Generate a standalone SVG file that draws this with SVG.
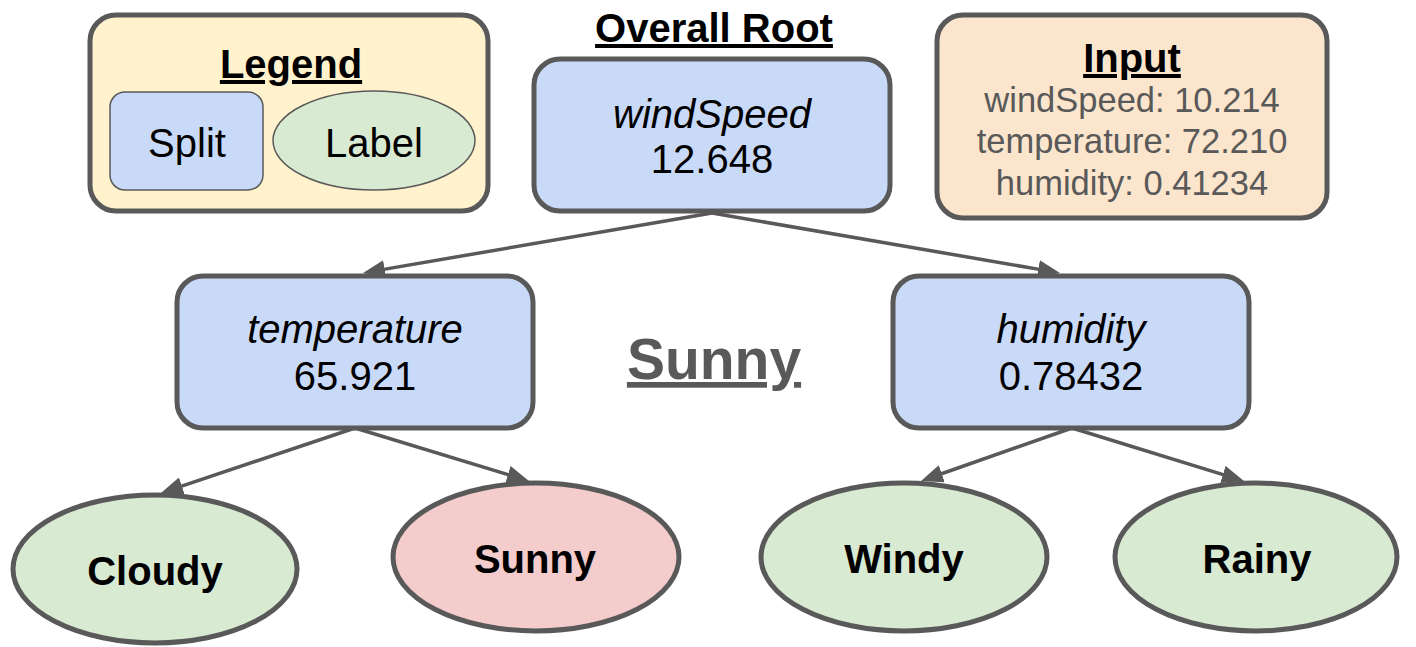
<svg xmlns="http://www.w3.org/2000/svg" width="1416" height="647" viewBox="0 0 1416 647">
  <style>
    text { font-family: "Liberation Sans", Arial, sans-serif; text-anchor: middle; fill: #000; }
    .title { font-size: 40px; font-weight: bold; text-decoration: underline; }
    .node { font-size: 40px; }
    .it { font-style: italic; }
    .leaf { font-size: 40px; font-weight: bold; }
    .input { font-size: 34.5px; fill: #595959; }
    .big { font-size: 57px; font-weight: bold; fill: #595959; text-decoration: underline; }
    .split { fill: #c9daf8; stroke: #595959; stroke-width: 5; }
    .label { fill: #d9ead3; stroke: #595959; stroke-width: 5; }
    .chosen { fill: #f4cccc; stroke: #595959; stroke-width: 5; }
    .edge { stroke: #595959; stroke-width: 3.5; fill: none; marker-end: url(#arrow); }
  </style>
  <defs>
    <marker id="arrow" markerUnits="userSpaceOnUse" markerWidth="22" markerHeight="18" refX="1" refY="9" orient="auto">
      <path d="M0,0 L22,9 L0,18 z" fill="#595959"/>
    </marker>
  </defs>

  <!-- legend panel -->
  <g id="legend">
    <rect x="90" y="15" width="398" height="196" rx="26" fill="#fff2cc" stroke="#595959" stroke-width="5"/>
    <text class="title" x="291" y="78">Legend</text>
    <rect x="110" y="92" width="153" height="98" rx="15" fill="#c9daf8" stroke="#595959" stroke-width="1.5"/>
    <text class="node" x="187" y="157">Split</text>
    <ellipse cx="374" cy="140.5" rx="101" ry="49.5" fill="#d9ead3" stroke="#595959" stroke-width="1.5"/>
    <text class="node" x="374" y="157">Label</text>
  </g>

  <!-- input sample -->
  <g id="input">
    <rect x="937" y="15" width="390" height="203" rx="26" fill="#fce5cd" stroke="#595959" stroke-width="5"/>
    <text class="title" x="1132" y="72">Input</text>
    <text class="input" x="1132" y="112">windSpeed: 10.214</text>
    <text class="input" x="1132" y="153">temperature: 72.210</text>
    <text class="input" x="1132" y="195">humidity: 0.41234</text>
  </g>

  <!-- connectors -->
  <g id="connectors">
    <path class="edge" d="M712,213 L383.7,269.4"/>
    <path class="edge" d="M712,213 L1039.3,269.4"/>
    <path class="edge" d="M355,428 L180.9,486.3"/>
    <path class="edge" d="M355,428 L508.9,474.9"/>
    <path class="edge" d="M1072,428 L940.8,474"/>
    <path class="edge" d="M1072,428 L1223.9,474.8"/>
  </g>

  <!-- root split -->
  <g id="root">
    <text class="title" x="714" y="42">Overall Root</text>
    <rect class="split" x="534" y="59" width="356" height="152" rx="26"/>
    <text class="node it" x="712" y="128">windSpeed</text>
    <text class="node" x="712" y="173">12.648</text>
  </g>

  <g id="temperature">
    <rect class="split" x="177" y="276" width="356" height="152" rx="26"/>
    <text class="node it" x="355" y="343">temperature</text>
    <text class="node" x="355" y="390">65.921</text>
  </g>

  <g id="humidity">
    <rect class="split" x="893" y="276" width="356" height="152" rx="26"/>
    <text class="node it" x="1071" y="343">humidity</text>
    <text class="node" x="1071" y="390">0.78432</text>
  </g>

  <!-- prediction result -->
  <g id="result">
    <text class="big" x="714" y="379">Sunny</text>
  </g>

  <!-- leaves -->
  <g id="cloudy">
    <ellipse class="label" cx="155" cy="569" rx="142" ry="74"/>
    <text class="leaf" x="155" y="585">Cloudy</text>
  </g>
  <g id="sunny">
    <ellipse class="chosen" cx="536" cy="557" rx="143" ry="74"/>
    <text class="leaf" x="535" y="573">Sunny</text>
  </g>
  <g id="windy">
    <ellipse class="label" cx="904" cy="557" rx="143" ry="74"/>
    <text class="leaf" x="904" y="573">Windy</text>
  </g>
  <g id="rainy">
    <ellipse class="label" cx="1256" cy="557" rx="141" ry="74"/>
    <text class="leaf" x="1257" y="573">Rainy</text>
  </g>
</svg>
